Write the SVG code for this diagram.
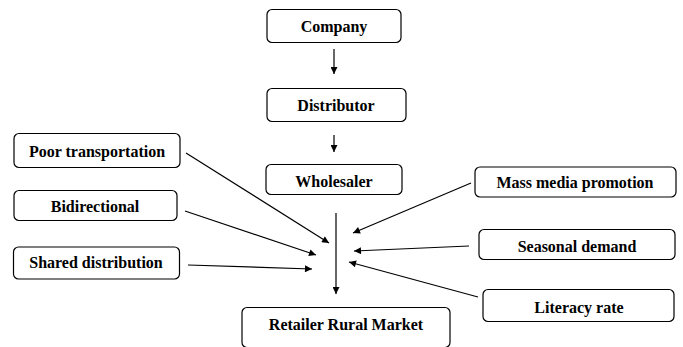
<svg xmlns="http://www.w3.org/2000/svg" width="683" height="347" viewBox="0 0 683 347">
<defs>
<style>
.box{fill:#fff;stroke:#000;stroke-width:1.2}
.t{font-family:"Liberation Serif","Times New Roman",serif;font-weight:bold;font-size:16px;fill:#000;text-anchor:middle}
.c line{stroke:#000;stroke-width:1.2}
</style>
<marker id="ah" viewBox="0 0 10 10" refX="10" refY="5" markerWidth="8" markerHeight="7" markerUnits="userSpaceOnUse" orient="auto">
<path d="M0,0 L10,5 L0,10 Z" fill="#000"/>
</marker>
</defs>
<rect width="683" height="347" fill="#fff"/>
<g id="company"><rect class="box" x="267" y="9.5" width="134" height="33" rx="5"/><text class="t" x="334" y="31.5">Company</text></g>
<g id="distributor"><rect class="box" x="267" y="88.5" width="139" height="33" rx="5"/><text class="t" x="336" y="110.5">Distributor</text></g>
<g id="wholesaler"><rect class="box" x="266" y="164.5" width="136" height="30" rx="5"/><text class="t" x="334" y="186.5">Wholesaler</text></g>
<g id="poor-transportation"><rect class="box" x="14" y="133.5" width="166" height="34" rx="5"/><text class="t" x="97" y="156.5">Poor transportation</text></g>
<g id="bidirectional"><rect class="box" x="14" y="190.5" width="163" height="30" rx="5"/><text class="t" x="95" y="211.5">Bidirectional</text></g>
<g id="shared-distribution"><rect class="box" x="13.5" y="247" width="166" height="32" rx="5"/><text class="t" x="96" y="267.5">Shared distribution</text></g>
<g id="mass-media-promotion"><rect class="box" x="475" y="167" width="201" height="30" rx="5"/><text class="t" x="575" y="188">Mass media promotion</text></g>
<g id="seasonal-demand"><rect class="box" x="479" y="229.5" width="196" height="30" rx="5"/><text class="t" x="577" y="251.5">Seasonal demand</text></g>
<g id="literacy-rate"><rect class="box" x="483" y="289.5" width="191" height="32" rx="5"/><text class="t" x="579" y="312.5">Literacy rate</text></g>
<g id="retailer-rural-market"><rect class="box" x="242" y="307.5" width="208" height="40" rx="5"/><text class="t" x="346" y="330">Retailer Rural Market</text></g>
<g id="connectors" class="c">
<line x1="334" y1="49" x2="334" y2="74" marker-end="url(#ah)"/>
<line x1="334" y1="135" x2="334" y2="152" marker-end="url(#ah)"/>
<line x1="336" y1="213" x2="336" y2="294" marker-end="url(#ah)"/>
<line x1="186" y1="153" x2="329" y2="243" marker-end="url(#ah)"/>
<line x1="185" y1="211" x2="316" y2="255" marker-end="url(#ah)"/>
<line x1="188" y1="265" x2="312" y2="269" marker-end="url(#ah)"/>
<line x1="471" y1="183" x2="353" y2="233" marker-end="url(#ah)"/>
<line x1="469" y1="246" x2="354" y2="251" marker-end="url(#ah)"/>
<line x1="478" y1="297" x2="349" y2="262" marker-end="url(#ah)"/>
</g>
</svg>
